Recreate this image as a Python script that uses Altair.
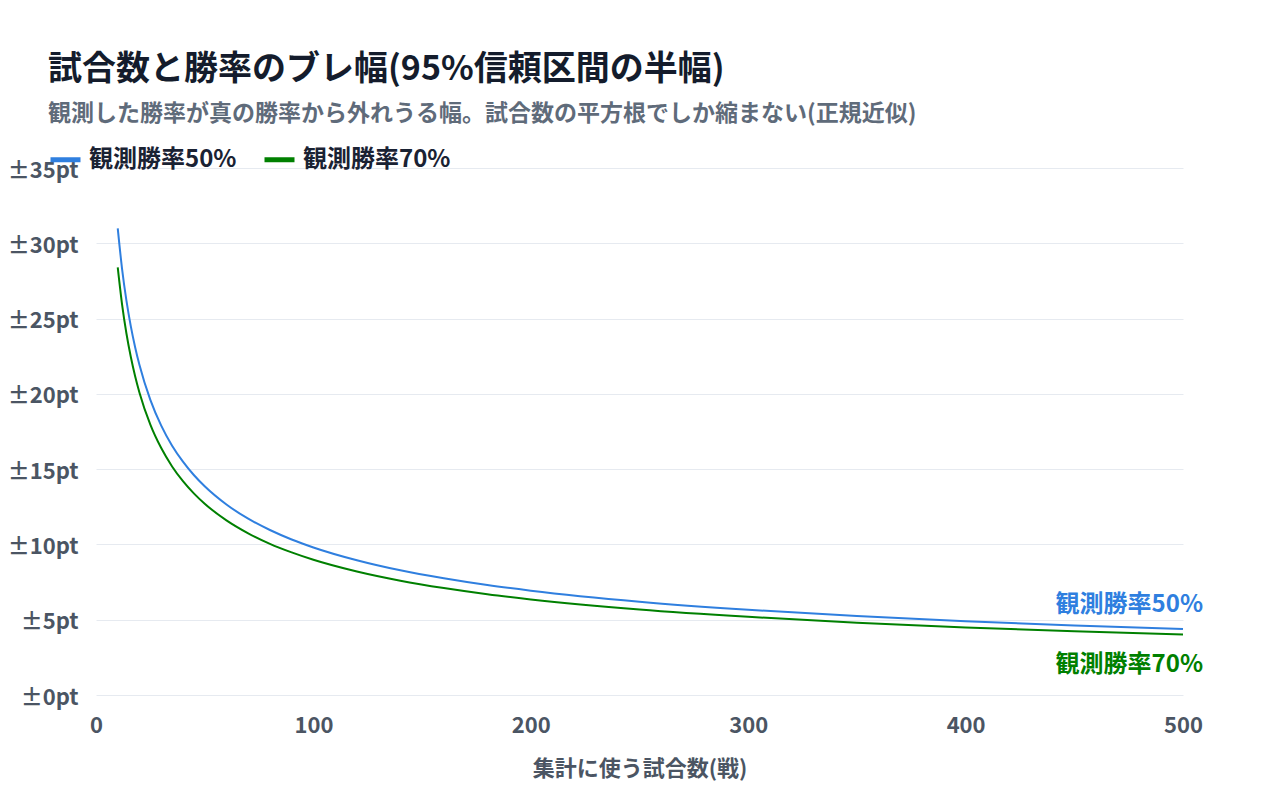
import altair as alt
import pandas as pd

FONT = "Noto Sans CJK JP"

games = [10, 12, 14, 16, 18, 20, 25, 30, 35, 40, 45, 50, 60, 70, 80, 90, 100, 120, 140, 160, 180, 200, 250, 300, 350, 400, 450, 500]
width_50 = [30.99, 28.29, 26.19, 24.50, 23.10, 21.91, 19.60, 17.89, 16.56, 15.50, 14.61, 13.86, 12.65, 11.71, 10.96, 10.33, 9.80, 8.95, 8.28, 7.75, 7.30, 6.93, 6.20, 5.66, 5.24, 4.90, 4.62, 4.38]
width_70 = [28.40, 25.93, 24.01, 22.46, 21.17, 20.08, 17.96, 16.40, 15.18, 14.20, 13.39, 12.70, 11.60, 10.74, 10.04, 9.47, 8.98, 8.20, 7.59, 7.10, 6.69, 6.35, 5.68, 5.19, 4.80, 4.49, 4.23, 4.02]
series_names = ["観測勝率50%", "観測勝率70%"]
series_colors = ["#2f7fdf", "#008000"]

rows = []
for g, a, b in zip(games, width_50, width_70):
    rows.append({"n": g, "w": a, "s": series_names[0]})
    rows.append({"n": g, "w": b, "s": series_names[1]})
df = pd.DataFrame(rows)

last = pd.DataFrame({"n": [games[-1], games[-1]], "w": [width_50[-1], width_70[-1]], "s": series_names})

color_scale = alt.Scale(domain=series_names, range=series_colors)

x_enc = alt.X("n:Q", scale=alt.Scale(domain=[0, 500], nice=False),
              axis=alt.Axis(title="集計に使う試合数(戦)", values=[0, 100, 200, 300, 400, 500],
                            grid=False, ticks=False, domain=False, labelFlush=False,
                            labelFontSize=22, labelFontWeight="bold", labelColor="#4b5563",
                            labelPadding=20, titleFontSize=22, titleFontWeight="bold",
                            titleColor="#4b5563", titlePadding=22, labelFont=FONT, titleFont=FONT))
y_enc = alt.Y("w:Q", scale=alt.Scale(domain=[0, 35], nice=False),
              axis=alt.Axis(title=None, values=[0, 5, 10, 15, 20, 25, 30, 35],
                            labelExpr="'±' + datum.value + 'pt'", grid=True, gridColor="#e6eaf0",
                            gridWidth=1, ticks=False, domain=False, labelFontSize=22,
                            labelFontWeight="bold", labelColor="#4b5563", labelPadding=18,
                            labelOffset=2, labelFont=FONT))

lines = alt.Chart(df).mark_line(strokeWidth=2, interpolate="monotone").encode(
    x=x_enc, y=y_enc,
    color=alt.Color("s:N", scale=color_scale,
                    legend=alt.Legend(title=None, orient="none", legendX=-48, legendY=-26,
                                      direction="horizontal", symbolType="stroke",
                                      symbolSize=900, symbolStrokeWidth=5, labelFontSize=24,
                                      labelFontWeight="bold", labelColor="#1a2233",
                                      labelFont=FONT, labelOffset=6, columnPadding=17)),
)

lab50 = alt.Chart(last[last.s == series_names[0]]).mark_text(
    align="right", baseline="middle", dx=20, dy=-24, fontSize=24, fontWeight="bold", font=FONT,
    color=series_colors[0]).encode(x="n:Q", y="w:Q", text="s:N")
lab70 = alt.Chart(last[last.s == series_names[1]]).mark_text(
    align="right", baseline="middle", dx=20, dy=31, fontSize=24, fontWeight="bold", font=FONT,
    color=series_colors[1]).encode(x="n:Q", y="w:Q", text="s:N")

chart = alt.layer(lines, lab50, lab70).properties(
    width=1087, height=527,
    title=alt.TitleParams(text="試合数と勝率のブレ幅(95%信頼区間の半幅)",
                          subtitle="観測した勝率が真の勝率から外れうる幅。試合数の平方根でしか縮まない(正規近似)",
                          anchor="start", frame="group", dx=-48, offset=16,
                          fontSize=34, fontWeight="bold", color="#141c2c", font=FONT,
                          subtitleFontSize=23, subtitleFontWeight="bold", subtitleColor="#5f6b7a",
                          subtitleFont=FONT, subtitlePadding=16),
    autosize=alt.AutoSizeParams(type="none"),
    padding={"left": 88, "top": 160, "right": 80, "bottom": 110},
).configure(background="white", view=alt.ViewConfig(stroke="transparent", strokeWidth=0))

chart.save("out.html", embed_options={"renderer": "svg", "actions": False})
